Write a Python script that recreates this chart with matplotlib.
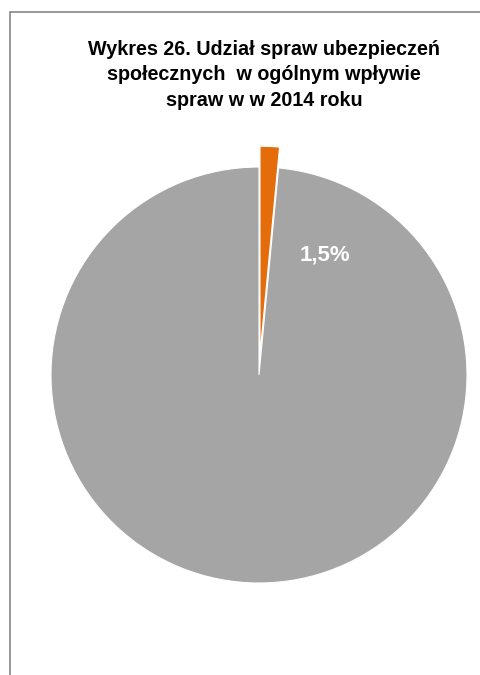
import matplotlib.pyplot as plt
from matplotlib.patches import Rectangle

# dane
kategorie = ['Sprawy ubezpieczeń społecznych', 'Pozostałe sprawy']
udzial = [1.5, 98.5]
kolory = ['#E46C0A', '#A5A5A5']
tytul = 'Wykres 26. Udział spraw ubezpieczeń\nspołecznych  w ogólnym wpływie\nspraw w w 2014 roku'

W, H = 481, 675
fig = plt.figure(figsize=(W / 100, H / 100), dpi=100)

# ramka wykresu
fig.patches.append(Rectangle((10 / W, -0.05), 1.1, (H - 12) / H + 0.05,
                             transform=fig.transFigure, fill=False,
                             edgecolor='#868686', linewidth=1.2))

fig.text(264 / W, 1 - 75 / H, tytul, ha='center', va='center',
         fontsize=14.2, fontweight='bold', family='Liberation Sans',
         linespacing=1.45)

# os kolowa, srodek (259, 375), promien 208 px
cx, cy, r = 259, 375, 208
lim = 1.2
half = r * lim
ax = fig.add_axes([(cx - half) / W, (H - cy - half) / H, 2 * half / W, 2 * half / H])
ax.pie(udzial, colors=kolory, startangle=90, counterclock=False,
       explode=[0.1, 0], radius=1,
       wedgeprops=dict(edgecolor='white', linewidth=0.8))
ax.set_xlim(-lim, lim)
ax.set_ylim(-lim, lim)
ax.set_aspect('equal')
ax.axis('off')

etykieta = f'{udzial[0]:.1f}%'.replace('.', ',')
ax.text((325 - cx) / r, (cy - 255) / r, etykieta, ha='center', va='center',
        color='white', fontsize=16, fontweight='bold', family='Liberation Sans')

fig.savefig('out.png', dpi=100)
